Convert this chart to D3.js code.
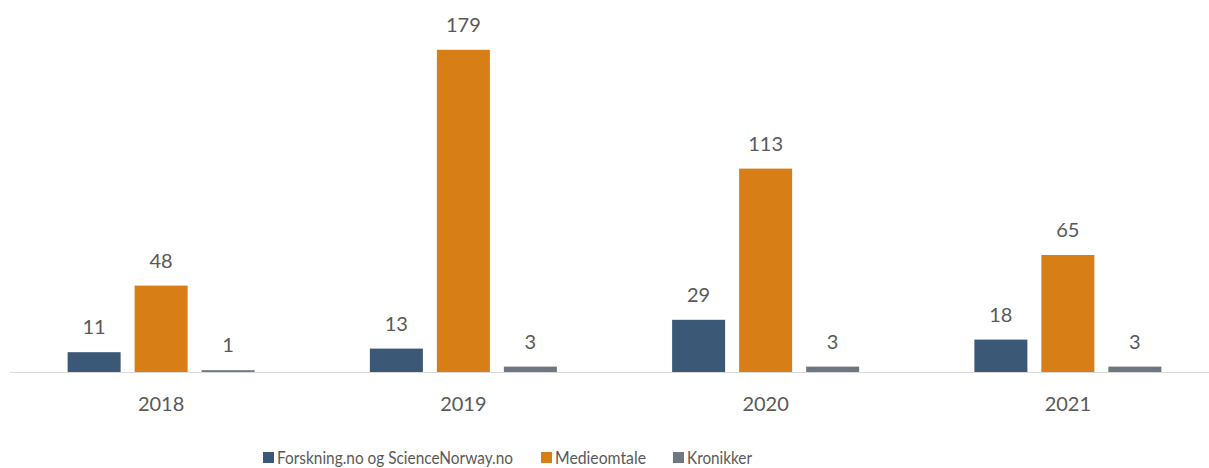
<!DOCTYPE html>
<html><head><meta charset="utf-8">
<script src="https://cdn.jsdelivr.net/npm/d3@7"></script>
<style>body{margin:0;background:#fff}svg{display:block}text{font-family:Lato,"Open Sans",sans-serif;fill:#595959}</style>
</head><body><svg id="c" width="1209" height="468"></svg>
<script>
const years = ["2018","2019","2020","2021"];
const seriesNames = ["Forskning.no og ScienceNorway.no","Medieomtale","Kronikker"];
const forskning = [11,13,29,18];
const medieomtale = [48,179,113,65];
const kronikker = [1,3,3,3];
const colors = ["#3B5876","#D77E17","#6F7780"];

const values = [forskning, medieomtale, kronikker];
const svg = d3.select("#c");
const base = 372;
const x0 = d3.scaleBand().domain(years).range([10,1219]).paddingInner(0).paddingOuter(0);
const gw = 187;
const x1 = d3.scaleBand().domain(seriesNames).range([(x0.bandwidth()-gw)/2,(x0.bandwidth()+gw)/2]).paddingInner(0.209).paddingOuter(0);
const y = d3.scaleLinear().domain([0,200]).range([base,12]);

const g = svg.selectAll("g.year").data(years).join("g").attr("transform",d=>`translate(${x0(d)},0)`);
seriesNames.forEach((s,si)=>{
  g.append("rect").attr("x",x1(s)).attr("width",x1.bandwidth())
    .attr("y",(d,i)=>y(values[si][i])).attr("height",(d,i)=>base-y(values[si][i]))
    .attr("fill",colors[si]);
  g.append("text").attr("x",x1(s)+x1.bandwidth()/2).attr("y",(d,i)=>y(values[si][i])-18)
    .attr("text-anchor","middle").attr("font-size",20).text((d,i)=>values[si][i]);
});
svg.append("line").attr("x1",10).attr("x2",1209).attr("y1",base+0.5).attr("y2",base+0.5).attr("stroke","#D9D9D9").attr("stroke-width",1);
const xa = svg.append("g").attr("transform",`translate(0,${base})`).call(d3.axisBottom(x0).tickSize(0).tickPadding(0));
xa.select(".domain").remove();
xa.selectAll("text").attr("y",39).attr("dy",null).attr("font-size",20).style("fill","#595959").style("font-family","Lato,'Open Sans',sans-serif");

const legX = [263,541,673];
const legW = [236,91,65];
const lg = svg.selectAll("g.leg").data(seriesNames).join("g").attr("transform",(d,i)=>`translate(${legX[i]},0)`);
lg.append("rect").attr("x",0).attr("y",452).attr("width",11).attr("height",11).attr("fill",(d,i)=>colors[i]);
lg.append("text").attr("x",14).attr("y",464).attr("font-size",17)
  .attr("textLength",(d,i)=>legW[i]).attr("lengthAdjust","spacingAndGlyphs").text(d=>d);
</script></body></html>
